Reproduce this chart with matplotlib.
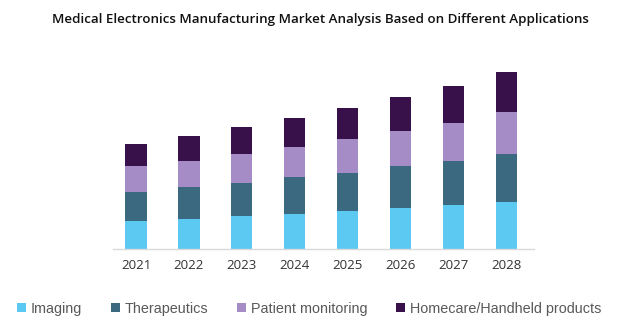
import numpy as np
import matplotlib
matplotlib.use('Agg')
import matplotlib.pyplot as plt
from matplotlib.patches import Patch

years = ['2021', '2022', '2023', '2024', '2025', '2026', '2027', '2028']
imaging = [28, 30.3, 32.7, 35, 38, 41.3, 43.7, 47]
therapeutics = [29, 31.4, 33.3, 36.7, 38, 41.4, 44.6, 48]
patient_monitoring = [26, 26.6, 29, 30, 33.7, 35, 38, 41.7]
homecare = [22, 24.7, 27, 29, 31, 34.3, 37, 40]

labels = ['Imaging', 'Therapeutics', 'Patient monitoring', 'Homecare/Handheld products']
colors = ['#5bc9f2', '#3b6a80', '#a58cc7', '#38104a']

fig = plt.figure(figsize=(6.31, 3.28), dpi=100)
ax = fig.add_axes([113 / 631, 1 - 249 / 328, (534 - 113) / 631, 189 / 328])

x = np.arange(len(years))
bottom = np.zeros(len(years))
for vals, col in zip([imaging, therapeutics, patient_monitoring, homecare], colors):
    ax.bar(x, vals, width=0.4, bottom=bottom, color=col, linewidth=0)
    bottom += np.array(vals)

ax.set_xlim(-0.435, 7.52)
ax.set_ylim(0, 189)
for s in ['top', 'right', 'left']:
    ax.spines[s].set_visible(False)
ax.spines['bottom'].set_color('#d9d9d9')
ax.spines['bottom'].set_linewidth(1)
ax.set_yticks([])
ax.set_xticks(x)
ax.set_xticklabels(years, fontsize=9.5, color='#333333', family='Open Sans')
ax.tick_params(axis='x', length=0, pad=7)

fig.text(0.508, 1 - 20 / 328, 'Medical Electronics Manufacturing Market Analysis Based on Different Applications',
         ha='center', va='center', fontsize=9.6, family='Open Sans', fontweight='semibold', color='#111111')

handles = [Patch(facecolor=c, edgecolor='none') for c in colors]
fig.legend(handles, labels, loc='center', bbox_to_anchor=(0.49, 1 - 309 / 328), ncol=4,
           frameon=False, handlelength=0.6, handleheight=0.6, handletextpad=0.35,
           columnspacing=2.0, prop={'family': 'Liberation Sans', 'size': 10.4}, labelcolor='#595959')

fig.savefig('out.png', dpi=100)
